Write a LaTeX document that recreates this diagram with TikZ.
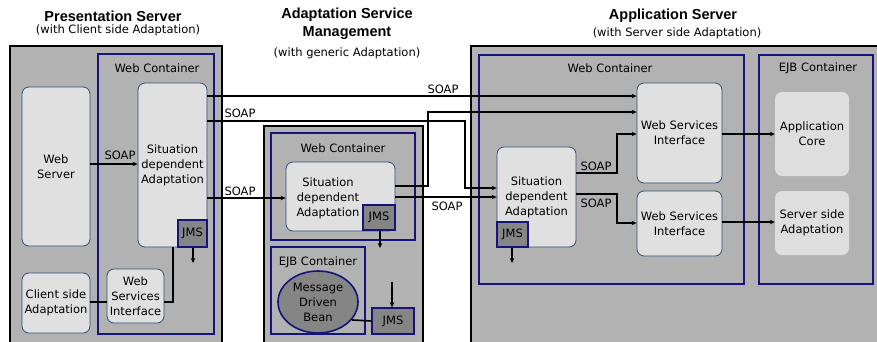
\documentclass[tikz,border=0pt]{standalone}
\usepackage{fontspec}
\setmainfont{DejaVu Sans}
\newfontfamily\titlefont{Liberation Sans}
\usetikzlibrary{arrows.meta,shapes.geometric}
\definecolor{srvgray}{HTML}{B2B2B2}
\definecolor{navyc}{HTML}{14147A}
\definecolor{complight}{HTML}{E0E0E0}
\definecolor{compborder}{HTML}{2E4E7E}
\definecolor{jmsgray}{HTML}{858585}
\definecolor{corelight}{HTML}{DEDEDE}
\newcommand{\bx}[7]{\node[#1, minimum width={#5-#3}, minimum height={#6-#4}] (#2) at ({(#3+#5)/2},{(#4+#6)/2}) {#7};}
\begin{document}
\begin{tikzpicture}[x=1pt,y=-1pt,
  every node/.style={font=\fontsize{11.5}{15}\selectfont, inner sep=0pt},
  srvbox/.style={draw=black, line width=2pt, fill=srvgray},
  contbox/.style={draw=navyc, line width=1.8pt, fill=srvgray},
  compbox/.style={draw=compborder, line width=0.8pt, fill=complight, rounded corners=7pt, align=center},
  corebox/.style={fill=corelight, rounded corners=7pt, align=center},
  jmsbox/.style={draw=navyc, line width=1.6pt, fill=jmsgray, align=center},
  titletext/.style={font=\titlefont\bfseries\fontsize{14.5}{18}\selectfont, align=center},
  subtext/.style={align=center},
  conn/.style={line width=1.6pt, -{Stealth[length=5pt,width=4.5pt]}},
  plainline/.style={line width=1.6pt},
]
\useasboundingbox (0,0) rectangle (877,341);
\fill[white] (0,0) rectangle (877,341);
\begin{scope}
\clip (0,0) rectangle (877,341);
% titles
\node[titletext] (t1) at (113,16) {Presentation Server};
\node[subtext] (s1) at (118,30) {(with Client side Adaptation)};
\node[titletext] (t2) at (347,24) {Adaptation Service\\Management};
\node[subtext] (s2) at (347,53) {(with generic Adaptation)};
\node[titletext] (t3) at (673,16) {Application Server};
\node[subtext] (s3) at (677,33) {(with Server side Adaptation)};
% servers
\bx{srvbox}{ps}{10}{46}{222}{360}{}
\bx{srvbox}{asm}{264}{126}{423}{360}{}
\bx{srvbox}{as}{471}{46}{890}{360}{}
% containers
\bx{contbox}{pswc}{98}{54}{214}{334}{}
\bx{contbox}{mwc}{271}{133}{415}{240}{}
\bx{contbox}{mejb}{271}{247}{365}{334}{}
\bx{contbox}{awc}{479}{55}{744}{284}{}
\bx{contbox}{aejb}{759}{55}{873}{284}{}
\node (l1) at (157,68) {Web Container};
\node (l2) at (343,148) {Web Container};
\node (l3) at (318,262) {EJB Container};
\node (l4) at (610,68) {Web Container};
\node (l5) at (818,68) {EJB Container};
% components
\bx{compbox}{ws}{22}{87}{90}{246}{Web\\Server}
\bx{compbox}{lsda}{138}{83}{207}{247}{Situation\\dependent\\Adaptation}
\bx{compbox}{csa}{22}{273}{90}{333}{Client side\\Adaptation}
\bx{compbox}{lwsi}{107}{269}{164}{323}{Web\\Services\\Interface}
\bx{compbox}{msda}{286}{162}{395}{231}{}
\node[align=center] (msdatext) at (328,198) {Situation\\dependent\\Adaptation};
\bx{compbox}{rsda}{497}{147}{576}{247}{Situation\\dependent\\Adaptation}
\bx{compbox}{wsit}{637}{83}{722}{183}{Web Services\\Interface}
\bx{compbox}{wsib}{637}{191}{722}{256}{Web Services\\Interface}
\bx{corebox}{core}{775}{92}{849}{176}{Application\\Core}
\bx{corebox}{ssa}{775}{191}{849}{255}{Server side\\Adaptation}
% JMS
\bx{jmsbox}{jms1}{178}{220}{207}{247}{JMS}
\bx{jmsbox}{jms2}{363}{205}{395}{230}{JMS}
\bx{jmsbox}{jms3}{372}{308}{414}{334}{JMS}
\bx{jmsbox}{jms4}{497}{222}{528}{247}{JMS}
\node[ellipse, draw=navyc, line width=1.6pt, fill=jmsgray, minimum width=80pt, minimum height=62pt, align=center] (mdb) at (318,302) {Message\\Driven\\Bean};
% connectors
\draw[conn] (lsda.east |- 0,96) -- (wsit.west |- 0,96);
\draw[conn] (lsda.east |- 0,121) -| (465,188) -- (rsda.west |- 0,188);
\draw[conn] (lsda.east |- 0,198) -- (msda.west |- 0,198);
\draw[conn] (msda.east |- 0,186) -| (428,112) -- (wsit.west |- 0,112);
\draw[conn] (msda.east |- 0,197) -- (rsda.west |- 0,197);
\draw[conn] (rsda.east |- 0,173) -| (617,134) -- (wsit.west |- 0,134);
\draw[conn] (rsda.east |- 0,194) -| (617,223) -- (wsib.west |- 0,223);
\draw[conn] (wsit.east |- 0,134) -- (core.west |- 0,134);
\draw[conn] (wsib.east |- 0,222) -- (ssa.west |- 0,222);
\draw[conn] (ws.east |- 0,164) -- (lsda.west |- 0,164);
\draw[plainline] (csa.east |- 0,302) -- (lwsi.west |- 0,302);
\draw[plainline] (lwsi.east |- 0,302) -| (lsda.south -| 173,0);
\coordinate (j1end) at (193,263);
\coordinate (j2end) at (380,248);
\coordinate (j4end) at (512,263);
\coordinate (j3start) at (392,282);
\draw[conn] (jms1.south -| j1end) -- (j1end);
\draw[conn] (jms2.south -| j2end) -- (j2end);
\draw[conn] (jms4.south -| j4end) -- (j4end);
\draw[conn] (j3start) -- (jms3.north -| j3start);
\draw[plainline] (mdb.-28) -- (jms3.west);
% SOAP labels
\node (p1) at (120,155) {SOAP};
\node (p2) at (443,89) {SOAP};
\node (p3) at (240,113) {SOAP};
\node (p4) at (240,191) {SOAP};
\node (p5) at (447,206) {SOAP};
\node (p6) at (596,166) {SOAP};
\node (p7) at (596,203) {SOAP};
\end{scope}
\end{tikzpicture}
\end{document}
